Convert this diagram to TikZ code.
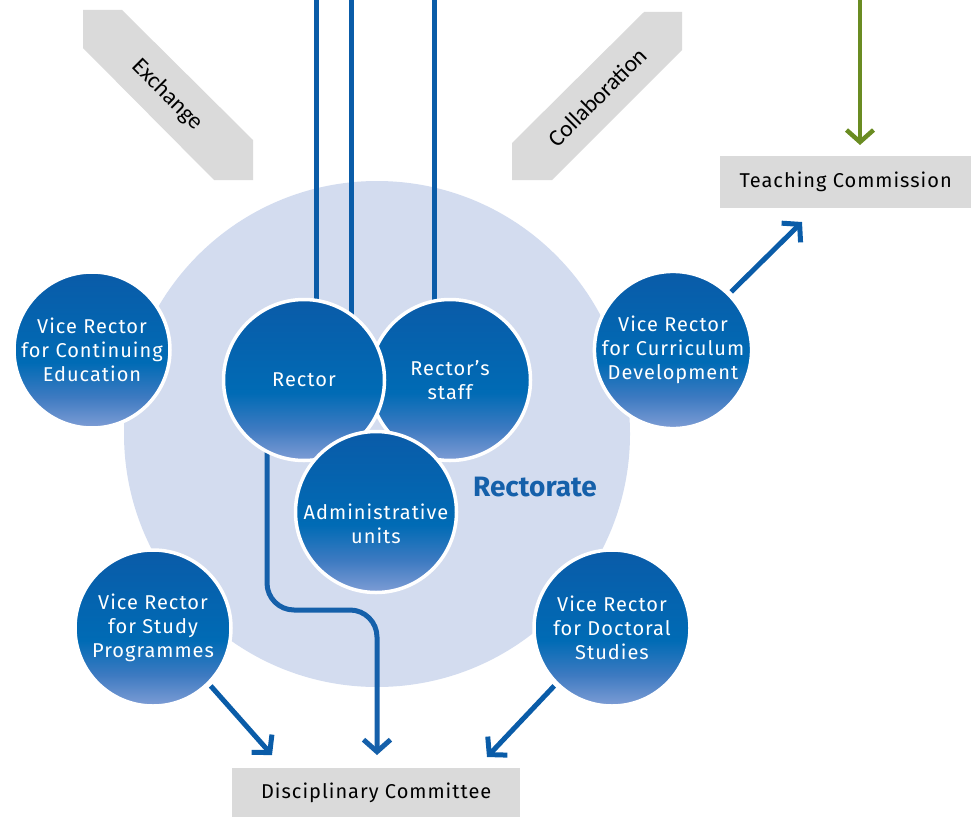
\documentclass[tikz,border=0pt]{standalone}
\usepackage{fontspec}
\setmainfont{Fira Sans}
\newfontfamily\din[LetterSpace=5]{Fira Sans}
\newfontfamily\calib{Carlito}
\usetikzlibrary{arrows.meta,shadings}
\definecolor{lightc}{HTML}{D3DCEF}
\definecolor{dblue}{HTML}{0A5CA8}
\definecolor{rblue}{HTML}{1560AA}
\definecolor{gbox}{HTML}{DADADA}
\definecolor{ggreen}{HTML}{6A8C22}
\definecolor{cTop}{HTML}{0A5BA8}
\definecolor{cMid}{HTML}{006BB5}
\definecolor{cMidB}{HTML}{3D7AC1}
\definecolor{cLo}{HTML}{7E9DD5}
\pgfdeclareverticalshading{vrshade}{100bp}{color(0bp)=(cLo); color(25bp)=(cLo); color(35bp)=(cMidB); color(46bp)=(cMid); color(75bp)=(cTop); color(100bp)=(cTop)}
\tikzset{
  vr/.style={circle, shade, shading=vrshade, draw=white, line width=3.5pt, inner sep=0pt,
    minimum size=#1, text=white, align=center, font=\din\fontsize{20}{24}\selectfont},
  conn/.style={draw=dblue, line width=5pt},
  arr/.style={conn, -{Straight Barb[length=12pt,width=27pt]}},
  gbx/.style={fill=gbox, inner sep=0pt, text=black, font=\din\fontsize{20}{24}\selectfont},
  bantext/.style={font=\calib\fontsize{23.5}{26}\selectfont, text=black}
}
\begin{document}
\begin{tikzpicture}[x=1pt,y=-1pt]
\useasboundingbox (0,0) rectangle (971,816);
% Rectorate area
\node[circle, fill=lightc, minimum size=506pt, inner sep=0pt] (area) at (377,434) {};
% banners
\fill[gbox] (83,10) -- (122,10) -- (253,140) -- (253,180) -- (214,180) -- (83,48) -- cycle;
\node[bantext, rotate=-45] (exch) at (167,95) {Exchange};
\fill[gbox] (682,12) -- (644,12) -- (512,143) -- (512,180) -- (552,180) -- (682,50) -- cycle;
\node[bantext, rotate=45] (coll) at (597,97) {Collaboration};
% boxes
\node[gbx, anchor=north west, minimum width=251pt, minimum height=52pt] (tc) at (720,156) {Teaching Commission};
\node[gbx, anchor=north west, minimum width=288pt, minimum height=50pt] (dc) at (232,768) {Disciplinary Committee};
% coordinates
\coordinate (t1) at (316,0);
\coordinate (t2) at (351,0);
\coordinate (t3) at (434,0);
\coordinate (tg) at (860,0);
\coordinate (tgEnd) at (860,145);
\coordinate (tcIn) at (802,222);
\coordinate (dcL) at (272,755);
\coordinate (dcM) at (377,755);
\coordinate (dcR) at (487,757);
\coordinate (rs) at (267,430);
\path (304,380) coordinate (rectorC) (450,380) coordinate (staffC) (376,512) coordinate (adminC);
% lines from the top
\draw[conn] (t1) -- (t1 |- rectorC);
\draw[conn] (t2) -- (t2 |- rectorC);
\draw[conn] (t3) -- (t3 |- staffC);
\draw[draw=ggreen, line width=4.5pt, -{Straight Barb[length=12pt,width=27pt]}] (tg) -- (tgEnd);
% Rector to Disciplinary Committee
\draw[arr, draw=rblue, rounded corners=27pt] (rs) -- (267,610) -- (377,610) -- (dcM);
% vice rector circles
\node[vr=156pt] (ce) at (92,350) {Vice Rector\\for Continuing\\Education};
\node[vr=156pt] (cd) at (673,350) {Vice Rector\\for Curriculum\\Development};
\node[vr=156pt] (sp) at (153,628) {Vice Rector\\for Study\\Programmes};
\node[vr=156pt] (ds) at (612,628) {Vice Rector\\for Doctoral\\Studies};
% arrows from vice rectors
\draw[arr, shorten <=2pt] (cd.45) -- (tcIn);
\draw[arr, shorten <=2pt] (sp.-45) -- (dcL);
\draw[arr, shorten <=2pt] (ds.-135) -- (dcR);
% rectorate circles
\node[vr=161pt] (staff) at (staffC) {Rector’s\\staff};
\node[vr=161pt] (rector) at (rectorC) {Rector};
\node[vr=161pt] (admin) at (adminC) {\rule{0pt}{40pt}Administrative\\units};
\node[font=\bfseries\fontsize{28}{30}\selectfont, text=rblue] (rlabel) at (535,487) {Rectorate};
\end{tikzpicture}
\end{document}
